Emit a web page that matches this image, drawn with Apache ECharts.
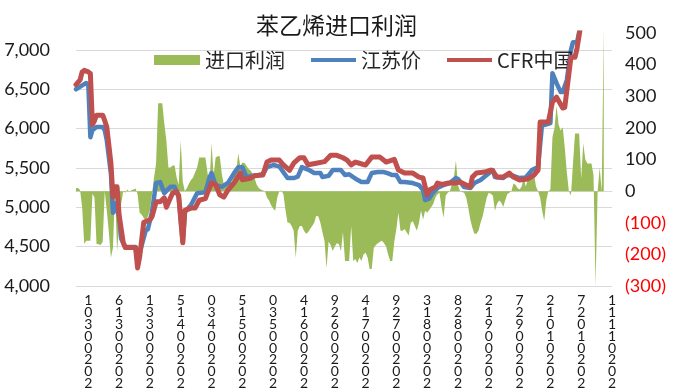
<!DOCTYPE html>
<html>
<head>
<meta charset="utf-8">
<script src="https://cdn.jsdelivr.net/npm/echarts@6/dist/echarts.min.js"></script>
<style>
html,body{margin:0;padding:0;background:#fff;}
#chart{width:673px;height:392px;}
</style>
</head>
<body>
<div id="chart"></div>
<script>
// x = days after 2020-03-01
const tickDays = [0,15,30,45,60,75,90,105,120,135,150,165,180,195,210,225,240,255];
const tickLabels = ['10300202','61300202','13300202','51400202','03400202','51500202','03500202','41600202','92600202','41700202','92700202','31800202','82800202','21900202','72900202','21010202','72010202','11110202'];
const leftTicks = [4000,4500,5000,5500,6000,6500,7000];

const profit = [[-6,10],[-5,10],[-4,3],[-3,-52],[-2,-167],[-1,-157],[0,-157],[1,-157],[2,-8],[3,-20],[4,-167],[5,-168],[6,-170],[7,-160],[8,0],[9,-62],[10,-130],[11,-211],[12,-179],[13,0],[14,-189],[15,-110],[16,-40],[17,0],[18,-5],[19,5],[20,-3],[21,3],[22,5],[23,8],[24,-10],[25,-68],[26,-75],[27,-85],[28,-94],[29,-80],[30,-60],[31,-10],[32,43],[33,87],[34,278],[35,278],[36,278],[37,214],[38,160],[39,75],[40,75],[41,81],[42,81],[43,43],[44,20],[45,160],[46,30],[47,0],[48,10],[49,24],[50,35],[51,43],[52,60],[53,75],[54,106],[55,106],[56,106],[57,106],[58,60],[59,20],[60,151],[61,50],[62,106],[63,110],[64,110],[65,55],[66,20],[67,20],[68,20],[69,30],[70,30],[71,50],[72,60],[73,119],[74,80],[75,90],[76,90],[77,80],[78,70],[79,65],[80,55],[81,40],[82,20],[83,10],[84,5],[85,2],[86,0],[87,-20],[88,-30],[89,-45],[90,-55],[91,-62],[92,-20],[93,0],[94,2],[95,-10],[96,-60],[97,-100],[98,-100],[99,-110],[100,-125],[101,-211],[102,-125],[103,-110],[104,-110],[105,-125],[106,-135],[107,-130],[108,-120],[109,-110],[110,-100],[111,-78],[112,-80],[113,-100],[114,-130],[115,-157],[116,-243],[117,-160],[118,-170],[119,-189],[120,-175],[121,-165],[122,-167],[123,-190],[124,-130],[125,-221],[126,-221],[127,-221],[128,-110],[129,-221],[130,-215],[131,-227],[132,-210],[133,-221],[134,-200],[135,-195],[136,-210],[137,-246],[138,-246],[139,-180],[140,-170],[141,-165],[142,-160],[143,-157],[144,-165],[145,-175],[146,-200],[147,-221],[148,-221],[149,-160],[150,-120],[151,-68],[152,-125],[153,-125],[154,-120],[155,-130],[156,-140],[157,-100],[158,-95],[159,-110],[160,-125],[161,-100],[162,-62],[163,-90],[164,-62],[165,-68],[166,-60],[167,-50],[168,-40],[169,-20],[170,-10],[171,-5],[172,-50],[173,-84],[174,-15],[175,-5],[176,0],[177,20],[178,43],[179,97],[180,20],[181,0],[182,-3],[183,-5],[184,-20],[185,-52],[186,-90],[187,-116],[188,-135],[189,-135],[190,-125],[191,-100],[192,-80],[193,-50],[194,-20],[195,-5],[196,-8],[197,-15],[198,-62],[199,-40],[200,-30],[201,-35],[202,-50],[203,-30],[204,-10],[205,-5],[206,0],[207,24],[208,20],[209,10],[210,5],[211,15],[212,43],[213,15],[214,35],[215,40],[216,50],[217,55],[218,15],[219,0],[220,-20],[221,-62],[222,-94],[223,-30],[224,0],[225,5],[226,170],[227,200],[228,270],[229,210],[230,192],[231,202],[232,138],[233,60],[234,0],[235,-14],[236,87],[237,182],[238,182],[239,182],[240,40],[241,151],[242,100],[243,87],[244,87],[245,87],[246,50],[247,-300],[248,0],[249,75],[250,0],[251,520]];

const jiangsu = [[-6,6500],[-3,6550],[-1,6580],[0,6560],[1,5890],[2,5980],[4,6020],[7,6020],[8,5980],[9,5850],[11,5430],[12,4930],[13,5050],[15,4880],[16,4600],[18,4495],[23,4495],[24,4290],[25,4420],[28,4710],[29,4720],[31,4940],[33,5310],[35,5320],[37,5180],[40,5260],[42,5260],[44,5130],[46,4560],[47,4940],[50,5030],[53,5180],[57,5190],[59,5380],[60,5435],[62,5280],[65,5260],[68,5310],[71,5435],[73,5510],[75,5510],[77,5384],[80,5400],[83,5410],[85,5420],[87,5510],[90,5537],[93,5520],[97,5372],[100,5372],[102,5390],[104,5511],[107,5480],[110,5435],[113,5435],[114,5384],[117,5400],[119,5473],[123,5473],[125,5410],[127,5420],[129,5384],[131,5350],[133,5321],[136,5321],[138,5435],[141,5448],[144,5448],[146,5430],[148,5410],[150,5410],[152,5321],[154,5321],[158,5308],[161,5283],[163,5219],[164,5092],[166,5110],[168,5194],[170,5245],[173,5283],[176,5308],[179,5372],[180,5360],[183,5257],[186,5245],[188,5308],[191,5346],[194,5410],[197,5473],[198,5384],[202,5372],[204,5410],[207,5400],[210,5372],[213,5380],[216,5473],[219,5511],[221,6070],[222,6045],[225,6070],[226,6705],[228,6578],[230,6464],[231,6464],[233,6616],[235,6997],[236,7099],[238,7099],[240,7350],[242,7600],[250,7700]];

const cfr = [[-6,6560],[-4,6620],[-3,6720],[-2,6740],[0,6720],[1,6700],[2,6050],[3,6100],[4,6170],[7,6170],[8,6100],[9,6020],[11,5560],[12,5130],[13,5260],[14,5260],[15,4900],[17,4550],[18,4490],[23,4490],[24,4230],[25,4370],[27,4810],[30,4840],[31,4880],[33,5070],[35,5070],[37,5120],[38,5000],[40,5120],[41,5180],[43,5200],[44,5150],[46,4550],[47,4960],[50,4990],[52,4990],[54,5090],[57,5110],[58,5180],[60,5310],[62,5290],[64,5160],[66,5130],[68,5220],[71,5310],[74,5435],[75,5350],[79,5370],[81,5400],[85,5410],[87,5575],[89,5600],[93,5600],[95,5540],[98,5470],[100,5560],[103,5630],[105,5630],[107,5540],[111,5560],[115,5580],[118,5660],[121,5660],[124,5630],[126,5600],[128,5540],[130,5575],[132,5560],[135,5537],[138,5638],[142,5638],[145,5575],[149,5610],[151,5473],[154,5435],[158,5435],[161,5384],[163,5372],[165,5156],[166,5219],[169,5257],[170,5308],[172,5290],[175,5308],[179,5310],[181,5321],[184,5283],[186,5257],[187,5384],[189,5435],[193,5448],[196,5473],[197,5460],[199,5384],[202,5384],[205,5435],[207,5384],[210,5346],[214,5360],[217,5410],[219,5473],[220,6083],[224,6083],[226,6337],[228,6400],[231,6261],[232,6270],[235,6908],[237,6908],[238,7022],[240,7350],[242,7600],[250,7700]];

function thousands(v){ return String(v).replace(/\B(?=(\d{3})+(?!\d))/g, ','); }

const chart = echarts.init(document.getElementById('chart'), null, {renderer:'canvas'});
const cjk = '"Noto Sans CJK SC", sans-serif';
const num = 'Lato, "Noto Sans", sans-serif';
chart.setOption({
  animation: false,
  backgroundColor: '#ffffff',
  title: {
    text: '苯乙烯进口利润', left: 'center', top: 9,
    textStyle: {fontFamily: cjk, fontSize: 23, fontWeight: 'normal', color: '#1a1a1a'}
  },
  legend: [
    {
      data: ['进口利润'], left: 149, top: 45, itemWidth: 46, itemHeight: 10, itemGap: 26,
      icon: 'rect', textStyle: {fontFamily: cjk, fontSize: 20, color: '#262626'}
    },
    {
      data: ['江苏价', 'CFR中国'], left: 306, top: 45, itemWidth: 45, itemHeight: 4, itemGap: 26,
      icon: 'rect', textStyle: {fontFamily: cjk, fontSize: 20, color: '#262626'}
    }
  ],
  grid: {left: 76, right: 61, top: 33, bottom: 106, containLabel: false},
  xAxis: {
    type: 'value', min: -6, max: 255,
    axisLine: {show: true, lineStyle: {color: '#D9D9D9', width: 1}},
    axisTick: {show: false, customValues: tickDays},
    splitLine: {show: false},
    axisLabel: {
      customValues: tickDays, margin: 9,
      fontFamily: num, fontSize: 14, lineHeight: 11.8, color: '#1a1a1a',
      formatter: function (v) {
        const i = tickDays.indexOf(Math.round(v));
        return i < 0 ? '' : tickLabels[i].split('').join('\n');
      }
    }
  },
  yAxis: [
    {
      type: 'value', min: 4000, max: 7215, position: 'left',
      axisLine: {show: false},
      axisTick: {show: false, customValues: leftTicks},
      splitLine: {show: true, lineStyle: {color: '#D9D9D9', width: 1}},
      axisLabel: {customValues: leftTicks, margin: 26, fontFamily: num, fontSize: 18, color: '#1a1a1a',
        formatter: function (v) { return thousands(v); }}
    },
    {
      type: 'value', min: -300, max: 500, interval: 100, position: 'right',
      axisLine: {show: false}, axisTick: {show: false}, splitLine: {show: false},
      axisLabel: {
        margin: 13, fontFamily: num, fontSize: 18, color: '#1a1a1a',
        formatter: function (v) { return v < 0 ? '{neg|(' + (-v) + ')}' : String(v); },
        rich: {neg: {color: '#FF0000', fontFamily: num, fontSize: 18}}
      }
    }
  ],
  series: [
    {
      name: '进口利润', type: 'line', yAxisIndex: 1, data: profit, symbol: 'none',
      itemStyle: {color: '#9BBB59'},
      lineStyle: {width: 0, color: '#9BBB59'},
      areaStyle: {color: '#9BBB59', opacity: 1},
      z: 1
    },
    {
      name: '江苏价', type: 'line', yAxisIndex: 0, data: jiangsu, symbol: 'none',
      itemStyle: {color: '#4F81BD'},
      lineStyle: {width: 4.5, color: '#4F81BD', join: 'round', cap: 'round'},
      z: 3
    },
    {
      name: 'CFR中国', type: 'line', yAxisIndex: 0, data: cfr, symbol: 'none',
      itemStyle: {color: '#C0504D'},
      lineStyle: {width: 5, color: '#C0504D', join: 'round', cap: 'round'},
      z: 4
    }
  ]
});
</script>
</body>
</html>
